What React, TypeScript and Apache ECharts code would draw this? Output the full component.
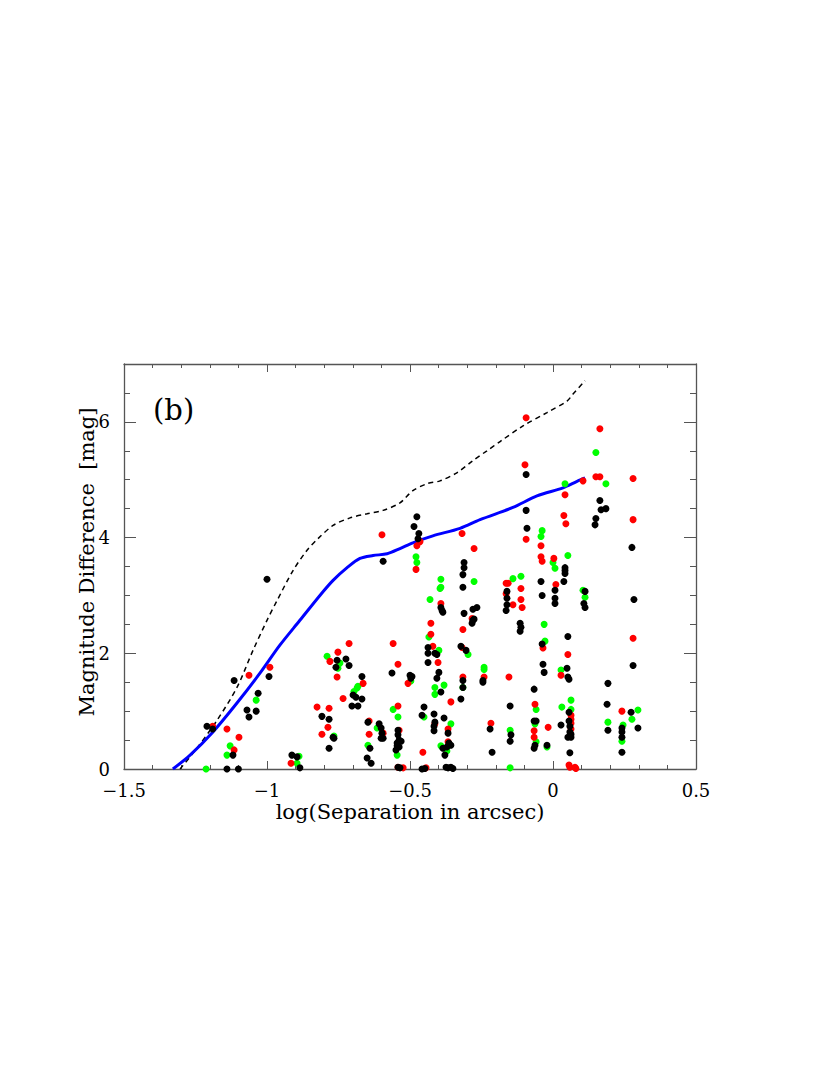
import React, { useEffect, useRef } from "react";
import * as echarts from "echarts";

const xTicks = [-1.5, -1, -0.5, 0, 0.5];
const yTicks = [0, 2, 4, 6];

const blackPoints = [
  [-1.0, 3.28], [-1.21, 0.74], [-1.19, 0.69], [-1.115, 1.53], [-0.993, 1.6], [-1.031, 1.31], [-1.07, 1.02], [-1.038, 1.0], [-1.063, 0.9], [-1.119, 0.24], [-1.14, 0], [-1.1, 0], [-0.913, 0.24], [-0.895, 0.21], [-0.885, 0.02], [-0.636, 0.1], [-0.535, 0.02], [-0.448, 0.01], [-0.357, 0.03], [-0.35, 0.01],
  [-0.283, 2.52], [-0.28, 2.57], [-0.755, 1.88], [-0.759, 1.76], [-0.724, 1.9], [-0.713, 1.79], [-0.668, 1.6], [-0.689, 1.24], [-0.668, 1.21], [-0.699, 1.28], [-0.703, 1.09], [-0.682, 1.09], [-0.563, 1.66], [-0.5, 1.62], [-0.497, 1.57], [-0.493, 1.6], [-0.808, 0.91], [-0.783, 0.86], [-0.769, 0.55], [-0.766, 0.53], [-0.783, 0.36], [-0.647, 0.81], [-0.64, 0.36], [-0.65, 0.19], [-0.608, 0.78], [-0.601, 0.71], [-0.598, 0.62], [-0.601, 0.53], [-0.594, 0.53], [-0.542, 0.67], [-0.542, 0.59], [-0.538, 0.5], [-0.545, 0.45], [-0.531, 0.48], [-0.545, 0.4], [-0.538, 0.38], [-0.549, 0.33], [-0.542, 0.03], [-0.458, 0], [-0.451, 1.07], [-0.458, 0.93], [-0.416, 0.95], [-0.413, 0.81], [-0.416, 0.74], [-0.416, 0.66], [-0.437, 2.0], [-0.437, 2.1], [-0.437, 1.84], [-0.413, 2.0], [-0.406, 1.98], [-0.399, 1.67], [-0.406, 1.57], [-0.392, 1.33], [-0.381, 0.88], [-0.367, 0.62], [-0.364, 0.45], [-0.357, 0.41], [-0.371, 0.38], [-0.385, 0.36], [-0.378, 0.24], [-0.374, 0.03], [-0.367, 0.02], [-0.322, 2.12], [-0.304, 2.05], [-0.315, 1.53], [-0.315, 1.41], [-0.322, 1.21], [-0.245, 1.53], [-0.245, 1.5], [-0.22, 0.69], [-0.213, 0.29],
  [-0.476, 4.36], [-0.486, 4.19], [-0.469, 4.07], [-0.472, 3.98], [-0.594, 3.59], [-0.311, 3.57], [-0.311, 3.48], [-0.315, 3.36], [-0.315, 3.14], [-0.392, 2.79], [-0.388, 2.74], [-0.385, 2.71], [-0.266, 2.79], [-0.28, 2.76], [-0.311, 2.69], [-0.276, 2.59],
  [-0.094, 5.09], [0.164, 4.64], [0.168, 4.48], [0.185, 4.5], [0.15, 4.33], [0.147, 4.22], [0.276, 3.83], [0.283, 2.93], [-0.094, 4.47], [-0.091, 4.16], [0.042, 3.48], [0.042, 3.43], [0.042, 3.38], [0.038, 3.24], [0.007, 3.09], [0.007, 2.95], [0.007, 2.86], [-0.042, 3.24], [-0.038, 3.0], [-0.161, 3.07], [-0.161, 2.95], [-0.161, 2.84], [-0.164, 2.74], [-0.115, 2.52], [-0.112, 2.45], [-0.115, 2.38], [0.112, 3.07], [0.108, 2.86], [0.112, 2.79],
  [-0.038, 2.16], [-0.035, 1.81], [-0.031, 1.67], [0.052, 2.29], [0.049, 1.74], [0.052, 1.59], [0.056, 1.55], [-0.066, 1.38], [-0.15, 1.09], [-0.147, 0.59], [-0.15, 0.48], [-0.066, 0.83], [-0.059, 0.83], [-0.063, 0.41], [-0.066, 0.36], [-0.021, 0.41], [0.028, 0.76], [0.056, 0.98], [0.056, 0.83], [0.059, 0.74], [0.059, 0.64], [0.063, 0.6], [0.052, 0.55], [0.063, 0.55], [0.059, 0.28], [0.192, 1.48], [0.189, 1.12], [0.192, 0.67], [0.28, 1.79], [0.273, 0.98], [0.241, 0.71], [0.241, 0.64], [0.241, 0.55], [0.241, 0.29], [0.297, 0.71],
];

const redPoints = [
  [-1.19, 0.74], [-1.063, 1.62], [-0.99, 1.76], [-1.14, 0.69], [-1.098, 0.55], [-1.115, 0.33], [-0.916, 0.1], [-0.825, 1.07], [-0.524, 0.02], [-0.444, 0.02], [0.077, 0.03], [0.08, 0.01],
  [-0.427, 2.52], [-0.315, 2.41], [-0.427, 2.33], [-0.752, 2.02], [-0.713, 2.17], [-0.78, 1.86], [-0.755, 1.59], [-0.664, 1.48], [-0.734, 1.22], [-0.559, 2.17], [-0.542, 1.81], [-0.507, 1.48], [-0.783, 1.05], [-0.787, 0.72], [-0.808, 0.6], [-0.643, 0.83], [-0.643, 0.6], [-0.594, 0.62], [-0.542, 1.09], [-0.538, 0.67], [-0.542, 0.03], [-0.455, 0.29], [-0.42, 2.12], [-0.402, 1.84], [-0.357, 1.16], [-0.367, 0.69], [-0.367, 0.47], [-0.318, 2.1], [-0.315, 1.59], [-0.241, 1.59], [-0.217, 0.79], [-0.413, 0.78],
  [-0.465, 3.93], [-0.476, 3.86], [-0.598, 4.05], [-0.479, 3.45], [-0.318, 4.07], [-0.276, 3.81], [-0.392, 2.86], [-0.283, 2.6],
  [-0.094, 6.07], [-0.098, 5.26], [0.164, 5.88], [0.15, 5.05], [0.164, 5.05], [0.28, 5.02], [0.042, 4.74], [0.105, 4.98],
  [0.28, 4.31], [-0.094, 3.97], [0.038, 4.38], [0.045, 4.24], [-0.042, 3.86], [-0.042, 3.67], [-0.038, 3.59], [0.003, 3.64], [0.01, 3.19], [-0.164, 3.21], [-0.157, 3.21], [-0.164, 3.03], [-0.112, 3.12], [-0.112, 2.93], [-0.108, 2.79], [-0.14, 2.84],
  [-0.035, 2.09], [0.052, 1.98], [0.028, 1.62], [-0.154, 1.59], [-0.063, 1.12], [-0.066, 0.66], [-0.066, 0.55], [-0.017, 0.72], [0.063, 0.93], [0.063, 0.86], [0.063, 0.79], [0.063, 0.69], [0.056, 0.07], [0.059, 0.03], [0.28, 2.26], [0.241, 1.0],
];

const greenPoints = [
  [-1.038, 1.19], [-1.129, 0.4], [-1.14, 0.24], [-1.213, 0], [-0.888, 0.22], [-0.895, 0.1],
  [-0.434, 2.28], [-0.79, 1.95], [-0.745, 1.83], [-0.752, 1.74], [-0.682, 1.43], [-0.696, 1.34], [-0.685, 1.4], [-0.497, 1.52], [-0.766, 0.57], [-0.647, 0.41], [-0.615, 0.71], [-0.559, 1.03], [-0.542, 0.9], [-0.545, 0.24], [-0.451, 0.9], [-0.399, 2.05], [-0.413, 1.41], [-0.413, 1.29], [-0.381, 1.45], [-0.357, 0.78], [-0.392, 0.4], [-0.371, 0.31], [-0.297, 1.98], [-0.315, 1.41], [-0.241, 1.76], [-0.241, 1.72],
  [-0.479, 3.67], [-0.476, 3.57], [-0.276, 3.24], [-0.392, 3.28], [-0.392, 3.14], [-0.395, 3.12], [-0.43, 2.93],
  [0.15, 5.47], [0.185, 4.93], [0.042, 4.93],
  [-0.038, 4.12], [-0.042, 4.02], [0.0, 3.57], [0.007, 3.47], [0.052, 3.69], [-0.14, 3.29], [-0.112, 3.33], [-0.031, 2.5], [0.105, 3.09], [0.112, 2.97],
  [-0.028, 2.21], [0.028, 1.71], [-0.15, 0.67], [-0.15, 0.02], [-0.059, 1.03], [-0.063, 0.78], [-0.059, 0.47], [-0.021, 0.38], [0.031, 1.07], [0.063, 1.19], [0.063, 1.03], [0.192, 0.81], [0.297, 1.02], [0.276, 0.86], [0.245, 0.76], [0.241, 0.48],
];

const blueCurve = [
  [-1.329, 0], [-1.269, 0.24], [-1.189, 0.64], [-1.105, 1.14], [-1.024, 1.66], [-0.955, 2.14], [-0.885, 2.57], [-0.815, 3.0], [-0.769, 3.26], [-0.72, 3.48], [-0.675, 3.64], [-0.629, 3.69], [-0.58, 3.72], [-0.535, 3.81], [-0.49, 3.91], [-0.42, 4.03], [-0.325, 4.16], [-0.255, 4.31], [-0.14, 4.52], [-0.056, 4.72], [0.035, 4.86], [0.084, 4.97], [0.112, 5.03],
];

const dashedCurve = [
  [-1.304, 0], [-1.245, 0.36], [-1.175, 0.84], [-1.105, 1.41], [-1.049, 2.05], [-1.0, 2.57], [-0.965, 2.91], [-0.909, 3.43], [-0.86, 3.78], [-0.822, 3.98], [-0.769, 4.21], [-0.71, 4.34], [-0.65, 4.41], [-0.594, 4.47], [-0.535, 4.6], [-0.49, 4.81], [-0.441, 4.93], [-0.395, 4.98], [-0.336, 5.12], [-0.28, 5.33], [-0.231, 5.5], [-0.185, 5.66], [-0.105, 5.93], [-0.021, 6.16], [0.049, 6.36], [0.07, 6.48], [0.112, 6.71],
];

const FONT = "DejaVu Serif";
const AX = "#555";

function fmtX(v: number) {
  const r = Math.round(v * 10) / 10;
  if (!xTicks.some((t) => Math.abs(t - r) < 1e-6)) return "";
  return r < 0 ? "\u2212" + String(Math.abs(r)) : String(r);
}
function fmtY(v: number) {
  const r = Math.round(v * 10) / 10;
  return yTicks.some((t) => Math.abs(t - r) < 1e-6) ? String(r) : "";
}

export default function App() {
  const ref = useRef<HTMLDivElement>(null);
  useEffect(() => {
    if (!ref.current) return;
    const chart = echarts.init(ref.current, undefined, { renderer: "svg" });
    const baseX = (pos: "bottom" | "top", show: boolean) => ({
      type: "value",
      position: pos,
      min: -1.5,
      max: 0.5,
      interval: 0.5,
      axisLine: { show: true, onZero: false, lineStyle: { color: AX, width: 1.3 } },
      axisTick: { show: true, inside: true, length: 8, lineStyle: { color: AX } },
      minorTick: { show: true, splitNumber: 5, length: 4, lineStyle: { color: AX } },
      splitLine: { show: false },
      minorSplitLine: { show: false },
      axisLabel: show
        ? { show: true, formatter: fmtX, fontFamily: FONT, fontSize: 18, color: "#000", margin: 12 }
        : { show: false },
    });
    const baseY = (pos: "left" | "right", interval: number, len: number, label: boolean, line: boolean) => ({
      type: "value",
      position: pos,
      min: 0,
      max: 7,
      interval,
      axisLine: { show: line, onZero: false, lineStyle: { color: AX, width: 1.3 } },
      axisTick: { show: true, inside: true, length: len, lineStyle: { color: AX } },
      splitLine: { show: false },
      axisLabel: label
        ? { show: true, formatter: fmtY, showMaxLabel: false, fontFamily: FONT, fontSize: 18, color: "#000", margin: 14 }
        : { show: false },
    });
    const xAxes: any[] = [baseX("bottom", true), baseX("top", false)];
    (xAxes[0] as any).name = "log(Separation in arcsec)";
    (xAxes[0] as any).nameLocation = "middle";
    (xAxes[0] as any).nameGap = 32;
    (xAxes[0] as any).nameTextStyle = { fontFamily: FONT, fontSize: 21, color: "#000" };
    const yAxes: any[] = [
      baseY("left", 2, 12, true, true),
      baseY("left", 0.5, 6, false, false),
      baseY("right", 2, 12, false, true),
      baseY("right", 0.5, 6, false, false),
    ];

    const scatter = (data: number[][], color: string, z: number) => ({
      type: "scatter",
      data,
      symbol: "circle",
      symbolSize: 7,
      itemStyle: { color, opacity: 1 },
      xAxisIndex: 0,
      yAxisIndex: 0,
      z,
    });

    chart.setOption({
      animation: false,
      backgroundColor: "#fff",
      grid: { left: 124, top: 364, width: 572, height: 405, containLabel: false },
      xAxis: xAxes,
      yAxis: yAxes,
      graphic: [
        {
          type: "text",
          left: 153,
          top: 395,
          style: { text: "(b)", fontFamily: FONT, fontSize: 29, fill: "#000" },
        },
        {
          type: "text",
          x: 87,
          y: 562,
          rotation: Math.PI / 2,
          style: {
            text: "Magnitude Difference  [mag]",
            fontFamily: FONT,
            fontSize: 21,
            fill: "#000",
            align: "center",
            verticalAlign: "middle",
          },
        },
      ],
      series: [
        {
          type: "line",
          data: dashedCurve,
          smooth: 0.3,
          showSymbol: false,
          symbol: "none",
          clip: true,
          lineStyle: { color: "#000", width: 1.5, type: [5, 4] },
          z: 3,
        },
        {
          type: "line",
          data: blueCurve,
          smooth: 0.3,
          showSymbol: false,
          symbol: "none",
          clip: true,
          lineStyle: { color: "#0000ff", width: 3 },
          z: 3,
        },
        scatter(greenPoints, "#00ff00", 4),
        scatter(redPoints, "#ff0000", 5),
        scatter(blackPoints, "#000000", 6),
      ],
    });
    return () => chart.dispose();
  }, []);
  return (
    <div
      ref={ref}
      style={{ position: "absolute", left: 0, top: 0, width: 830, height: 1075, background: "#fff" }}
    />
  );
}
